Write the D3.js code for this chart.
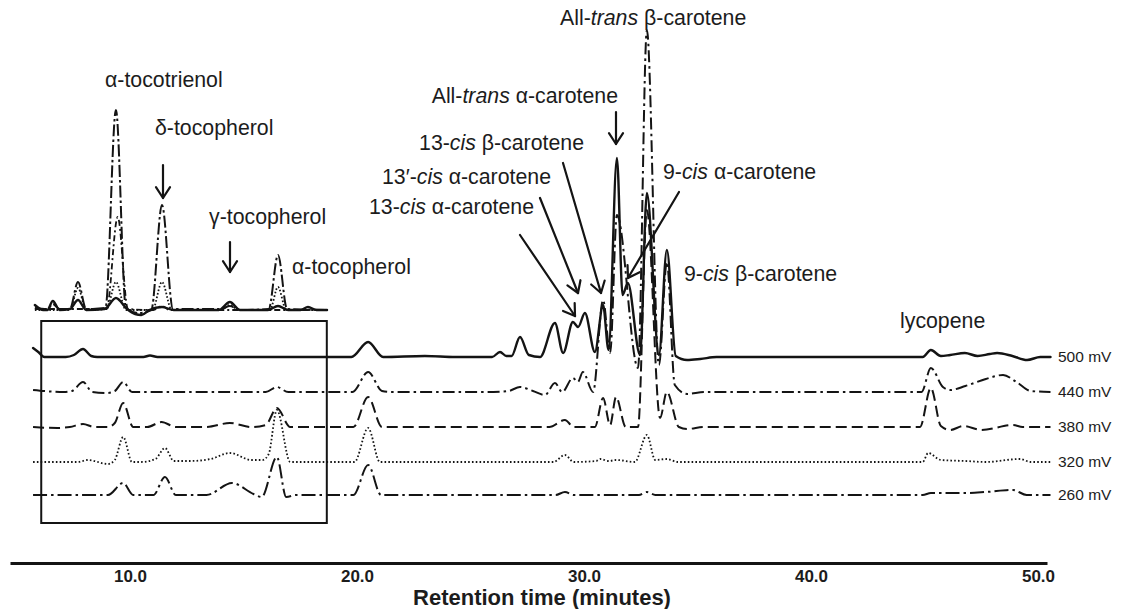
<!DOCTYPE html>
<html>
<head>
<meta charset="utf-8">
<script src="https://cdn.jsdelivr.net/npm/d3@7"></script>
<style>
  body { margin: 0; background: #fff; }
  svg { display: block; }
  text { font-family: "Liberation Sans", Arial, sans-serif; fill: #1c1c1c; }
</style>
</head>
<body>
<svg id="chart" width="1135" height="609"></svg>
<script>
// ---- Data: retention time (min) vs detector response, one trace per cell potential ----
const potentials = ["500 mV", "440 mV", "380 mV", "320 mV", "260 mV"];
const stackOffsets = [138, 103, 68, 33, 0];           // vertical stacking of traces, response units
const tickValues = [10, 20, 30, 40, 50];
const zoomWindow = [6.09, 18.67];                       // time range magnified in the inset

const trace500 = [
  [5.73, 9], [5.96, 5], [6.23, 0], [7.17, 0], [7.53, 2], [7.93, 8], [8.29, 1], [8.56, 0],
  [10.59, 0], [10.88, 1.5], [11.21, 0], [19.75, 0], [20.49, 15], [21.15, 0], [22.99, 1], [24.34, 0],
  [25.95, 0], [26.30, 5], [26.58, 1], [26.81, 1], [27.18, 20], [27.57, 2], [28.06, 0],
  [28.72, 34], [29.08, 4], [29.51, 35], [29.74, 30], [30.04, 44], [30.48, 5], [30.84, 52],
  [31.08, 7], [31.45, 199], [31.70, 62], [31.93, 74], [32.47, 2], [32.77, 164], [33.30, 2],
  [33.65, 107], [34.04, 1], [34.54, -3], [35.12, -2], [35.84, 0], [44.92, 0], [45.28, 7],
  [45.72, 1], [46.13, 2], [46.78, 4], [47.34, 1], [47.88, 3], [48.20, 4], [48.87, 1],
  [49.52, -3], [50.10, 0], [50.55, 0]
];
const trace440 = [
  [5.73, 2], [7.08, 0], [7.44, 1], [7.93, 10], [8.34, 0], [8.97, -1], [9.33, 1], [9.70, 10],
  [10.09, 0], [15.98, 0], [16.47, 5], [16.97, 0], [19.80, 0], [20.49, 20], [21.10, 1], [21.46, 0],
  [25.68, 0], [26.67, 1], [27.18, 5], [27.75, 1], [28.28, -3], [28.72, 9], [29.04, 0],
  [29.51, 14], [29.73, 10], [29.95, 20], [30.40, 0], [30.84, 92], [31.15, 39], [31.45, 177],
  [32.38, 24], [32.77, 362], [33.30, 27], [33.65, 130], [34.00, 7], [34.54, -2], [35.30, 0],
  [44.87, 0], [45.28, 24], [45.81, 5], [46.13, 2], [46.80, 6], [47.70, 13], [48.46, 17],
  [49.05, 10], [49.68, 1], [50.55, 0]
];
const trace380 = [
  [5.73, 0], [6.81, -1], [7.35, 0], [7.93, 3], [8.43, 0], [9.03, 0], [9.33, 4], [9.70, 24],
  [10.14, 0], [10.76, 0], [11.39, 5], [12.02, 0], [13.37, 0], [14.40, 4], [15.35, 0], [15.98, 2],
  [16.47, 19], [17.06, 0], [19.84, 0], [20.49, 30], [21.10, 0], [28.47, 0], [29.16, 7],
  [29.55, 0], [30.48, 0], [30.84, 29], [31.15, 2], [31.41, 30], [31.84, 0], [32.38, 0],
  [32.77, 217], [33.35, 9], [33.65, 35], [34.18, 0], [34.54, -2], [35.30, 0], [44.80, 0],
  [45.28, 39], [45.72, 1], [46.13, -3], [46.71, 1], [47.52, -3], [48.90, 2], [49.32, 0], [50.55, 0]
];
const trace320 = [
  [5.73, 0], [7.71, 0], [8.15, 2], [9.03, -2], [9.33, 2], [9.70, 25], [10.09, 0], [10.50, 0],
  [11.12, 3], [11.54, 14], [11.93, 1], [12.65, 1], [13.55, 3], [14.40, 9], [15.35, 2], [15.84, 2],
  [16.11, 8], [16.47, 52], [17.06, 0], [19.89, 0], [20.49, 34], [21.01, 0], [28.65, 0],
  [29.16, 7], [29.55, 0], [30.54, 1], [30.72, 3], [31.08, 1], [31.41, 2], [32.24, 0], [32.77, 27],
  [33.14, 2], [33.65, 3], [34.13, 0], [44.92, 0], [45.16, 9], [45.72, 2], [46.80, 1], [47.70, 0],
  [49.21, 3], [49.68, 0], [50.55, 0]
];
const trace260 = [
  [5.73, 0], [9.03, 0], [9.70, 12], [10.14, 0], [11.03, 0], [11.54, 18], [12.02, 0], [13.37, 0],
  [14.49, 12], [15.44, 1], [15.80, -2], [16.47, 38], [16.88, -2], [17.33, 0], [19.84, 0],
  [20.49, 30], [21.06, 0], [28.74, 0], [29.16, 3], [29.55, 0], [32.42, 0], [32.77, 3], [33.14, 0],
  [44.92, 0], [45.28, 2], [46.78, 2], [47.70, 3], [48.90, 5], [49.50, 0], [50.55, 0]
];

// Inset: the tocopherol / tocotrienol window at higher gain
const insetSolid = [
  [5.81, 5], [6.18, 0], [6.36, 0], [6.60, 9], [6.90, 0], [7.35, 1], [7.71, 10], [8.07, 0], [8.88, 1],
  [9.38, 12], [9.87, 1], [10.23, -4], [10.50, -5], [10.85, 0], [11.41, 3], [11.93, 0], [13.91, 0],
  [14.40, 8], [14.85, 0], [16.07, 0], [16.52, 4], [16.97, 0], [17.51, 0], [17.84, 3], [18.22, 0], [18.68, 0]
];
const insetDashDot = [
  [5.81, 2], [6.36, 1], [6.60, 6], [6.90, 1], [7.35, 1], [7.71, 28], [8.07, 1], [8.92, 2],
  [9.38, 200], [9.82, 2], [10.41, -3], [10.94, 0], [11.41, 105], [11.89, 1], [14.00, 1],
  [14.40, 4], [14.81, 0], [16.11, 1], [16.52, 55], [16.92, 1], [18.68, 0]
];
const insetDashDot2 = [
  [5.81, 1], [8.97, 1], [9.46, 93], [9.91, 1], [11.03, 0], [11.41, 4], [11.75, 0], [18.68, 0]
];
const insetDotted = [
  [5.81, 0], [7.35, 0], [7.71, 22], [8.07, 0], [8.97, 1], [9.38, 28], [9.82, 0], [10.99, 0],
  [11.41, 28], [11.84, 0], [14.00, 0], [14.40, 5], [14.81, 0], [16.16, 0], [16.52, 23], [16.88, 0], [18.68, 0]
];

const mainTraces = [trace500, trace440, trace380, trace320, trace260];
const insetTraces = [insetSolid, insetDashDot, insetDashDot2, insetDotted];

// ---- Styles ----
const traceStyles = [
  { dash: null,              width: 2.4 },
  { dash: "12,4,2.5,4",      width: 2.0 },
  { dash: "11,5",            width: 2.0 },
  { dash: "1.6,2.2",         width: 1.8 },
  { dash: "14,4,2.5,4",      width: 2.0 }
];
const insetStyles = [
  { dash: null,              width: 2.4 },
  { dash: "12,3,2.5,3",      width: 2.0 },
  { dash: "6,3,2,3",         width: 1.8 },
  { dash: "1.6,2.0",         width: 1.8 }
];
const ink = "#141414";

// ---- Scales ----
const svg = d3.select("#chart");
const x = d3.scaleLinear().domain([4.714, 50.396]).range([10, 1047]);
const yMain = d3.scaleLinear().domain([0, 300]).range([495, 195]);
const yInset = d3.scaleLinear().domain([0, 200]).range([310, 110]);

// ---- Zoom window box ----
svg.append("rect")
  .attr("x", x(zoomWindow[0])).attr("y", 321)
  .attr("width", x(zoomWindow[1]) - x(zoomWindow[0])).attr("height", 202)
  .attr("fill", "none").attr("stroke", ink).attr("stroke-width", 2);

// ---- Stacked chromatograms ----
mainTraces.forEach((trace, i) => {
  const off = stackOffsets[i];
  const line = d3.line()
    .x(d => x(d[0]))
    .y(d => yMain(d[1] + off))
    .curve(d3.curveMonotoneX);
  svg.append("path")
    .datum(trace)
    .attr("d", line)
    .attr("fill", "none")
    .attr("stroke", ink)
    .attr("stroke-width", traceStyles[i].width)
    .attr("stroke-linejoin", "round")
    .attr("stroke-linecap", traceStyles[i].dash ? "butt" : "round")
    .attr("stroke-dasharray", traceStyles[i].dash);

  svg.append("text")
    .attr("x", 1058)
    .attr("y", yMain(off) + 1)
    .attr("dominant-baseline", "middle")
    .attr("font-size", 15.5)
    .text(potentials[i]);
});

// ---- Inset traces ----
insetTraces.forEach((trace, i) => {
  const line = d3.line()
    .x(d => x(d[0]))
    .y(d => yInset(d[1]))
    .curve(d3.curveMonotoneX);
  svg.append("path")
    .datum(trace)
    .attr("d", line)
    .attr("fill", "none")
    .attr("stroke", ink)
    .attr("stroke-width", insetStyles[i].width)
    .attr("stroke-linejoin", "round")
    .attr("stroke-linecap", insetStyles[i].dash ? "butt" : "round")
    .attr("stroke-dasharray", insetStyles[i].dash);
});

// ---- Time axis ----
const axis = svg.append("g")
  .attr("transform", "translate(0,563)")
  .call(d3.axisBottom(x).tickValues(tickValues).tickFormat(d3.format(".1f")).tickSize(0).tickPadding(7));
axis.select(".domain").attr("stroke", ink).attr("stroke-width", 3);
axis.selectAll(".tick text")
  .attr("font-size", 17).attr("font-weight", "bold")
  .attr("font-family", "'Liberation Sans', Arial, sans-serif").attr("fill", "#1c1c1c");

svg.append("text")
  .attr("x", 542).attr("y", 605)
  .attr("text-anchor", "middle")
  .attr("font-size", 22).attr("font-weight", "bold")
  .text("Retention time (minutes)");

// ---- Peak annotations ----
const labels = [
  { x: 105, y: 87,  anchor: "start", parts: [["α-tocotrienol"]] },
  { x: 155, y: 135, anchor: "start", parts: [["δ-tocopherol"]] },
  { x: 209, y: 224, anchor: "start", parts: [["γ-tocopherol"]] },
  { x: 292, y: 274, anchor: "start", parts: [["α-tocopherol"]] },
  { x: 560, y: 25,  anchor: "start", parts: [["All-"], ["trans", true], [" β-carotene"]] },
  { x: 618, y: 103, anchor: "end",   parts: [["All-"], ["trans", true], [" α-carotene"]] },
  { x: 584, y: 150, anchor: "end",   parts: [["13-"], ["cis", true], [" β-carotene"]] },
  { x: 551, y: 184, anchor: "end",   parts: [["13′-"], ["cis", true], [" α-carotene"]] },
  { x: 534, y: 214, anchor: "end",   parts: [["13-"], ["cis", true], [" α-carotene"]] },
  { x: 663, y: 179, anchor: "start", parts: [["9-"], ["cis", true], [" α-carotene"]] },
  { x: 684, y: 281, anchor: "start", parts: [["9-"], ["cis", true], [" β-carotene"]] },
  { x: 900, y: 328, anchor: "start", parts: [["lycopene"]] }
];
labels.forEach(l => {
  const t = svg.append("text")
    .attr("x", l.x).attr("y", l.y)
    .attr("text-anchor", l.anchor)
    .attr("font-size", 21.3);
  l.parts.forEach(p => {
    t.append("tspan").attr("font-style", p[1] ? "italic" : null).text(p[0]);
  });
});

// Arrows: [x1, y1, x2, y2] with the head at (x2, y2)
const arrows = [
  [163, 165, 163, 198],
  [230, 242, 230, 272],
  [616, 112, 616, 144],
  [520, 235, 575, 316],
  [540, 198, 578, 293],
  [563, 163, 601, 293],
  [679, 192, 628, 278]
];
arrows.forEach(a => {
  const [x1, y1, x2, y2] = a;
  const ang = Math.atan2(y2 - y1, x2 - x1);
  const len = 13, spread = Math.PI / 5.5;
  const g = svg.append("g").attr("stroke", ink).attr("stroke-width", 2.2)
    .attr("fill", "none").attr("stroke-linecap", "round").attr("stroke-linejoin", "round");
  g.append("line").attr("x1", x1).attr("y1", y1).attr("x2", x2).attr("y2", y2);
  g.append("polyline").attr("points", [
    [x2 - len * Math.cos(ang - spread), y2 - len * Math.sin(ang - spread)],
    [x2, y2],
    [x2 - len * Math.cos(ang + spread), y2 - len * Math.sin(ang + spread)]
  ].map(p => p.join(",")).join(" "));
});
</script>
</body>
</html>
